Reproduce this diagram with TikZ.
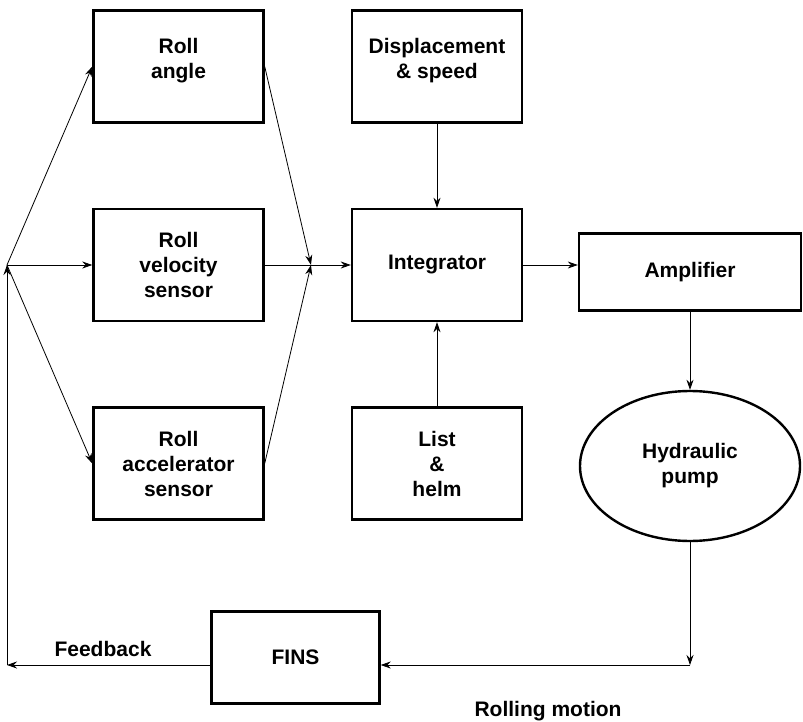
\documentclass[tikz,border=0pt]{standalone}
\usepackage{fontspec}
\setmainfont{Liberation Sans}
\usetikzlibrary{arrows.meta,shapes.geometric}

\begin{document}
\begin{tikzpicture}[x=1pt,y=-1pt,
  blk/.style={draw,line width=2.4pt,minimum width=170pt,minimum height=112pt,
    align=center,inner sep=0pt,font=\bfseries\fontsize{21}{25}\selectfont},
  top/.style={text depth=16pt},
  lbl/.style={font=\bfseries\fontsize{21}{25}\selectfont},
  arr/.style={-{Stealth[length=10pt,width=7pt]},line width=0.8pt}]
\useasboundingbox (0,0) rectangle (803,722);

\node[blk,top] (RA) at (178.5,66.5) {Roll\\angle};
\node[blk] (RV) at (178.5,265) {Roll\\velocity\\sensor};
\node[blk] (RC) at (178.5,463.5) {Roll\\accelerator\\sensor};

\node[blk,top] (DS) at (437,66.5) {Displacement\\\& speed};
\node[blk] (IN) at (437,265) {Integrator};
\node[blk] (LH) at (437,463.5) {List\\\&\\helm};

\node[blk,minimum width=222pt,minimum height=77pt] (AM) at (690,272) {Amplifier};
\node[blk,ellipse,minimum width=220pt,minimum height=150pt] (HP) at (690,466) {Hydraulic\\pump};
\node[blk,minimum width=168pt,minimum height=92pt] (FN) at (295.5,657.5) {FINS};

\coordinate (L) at (7,265);
\coordinate (M) at (311,265);
\coordinate (B) at (7,665);
\coordinate (R) at (HP.south |- B);

\draw[arr] (L) -- (RA.west);
\draw[arr] (L) -- (RV.west);
\draw[arr] (L) -- (RC.west);

\draw[arr] (RA.east) -- (M);
\draw[arr] (RC.east) -- (M);
\draw[arr] (RV.east) -- (IN.west);

\draw[arr] (DS) -- (IN);
\draw[arr] (LH) -- (IN);
\draw[arr] (IN.east) -- (AM.west |- IN.east);

\draw[arr] (AM) -- (HP);
\draw[arr] (HP.south) -- (R);
\draw[arr] (R) -- (FN.east |- R);
\draw[arr] (FN.west |- B) -- (B);
\draw[arr] (B) -- (L);

\node[lbl] (FB) at (103,649) {Feedback};
\node[lbl] (RM) at (548,711) {Rolling motion};

\end{tikzpicture}
\end{document}
